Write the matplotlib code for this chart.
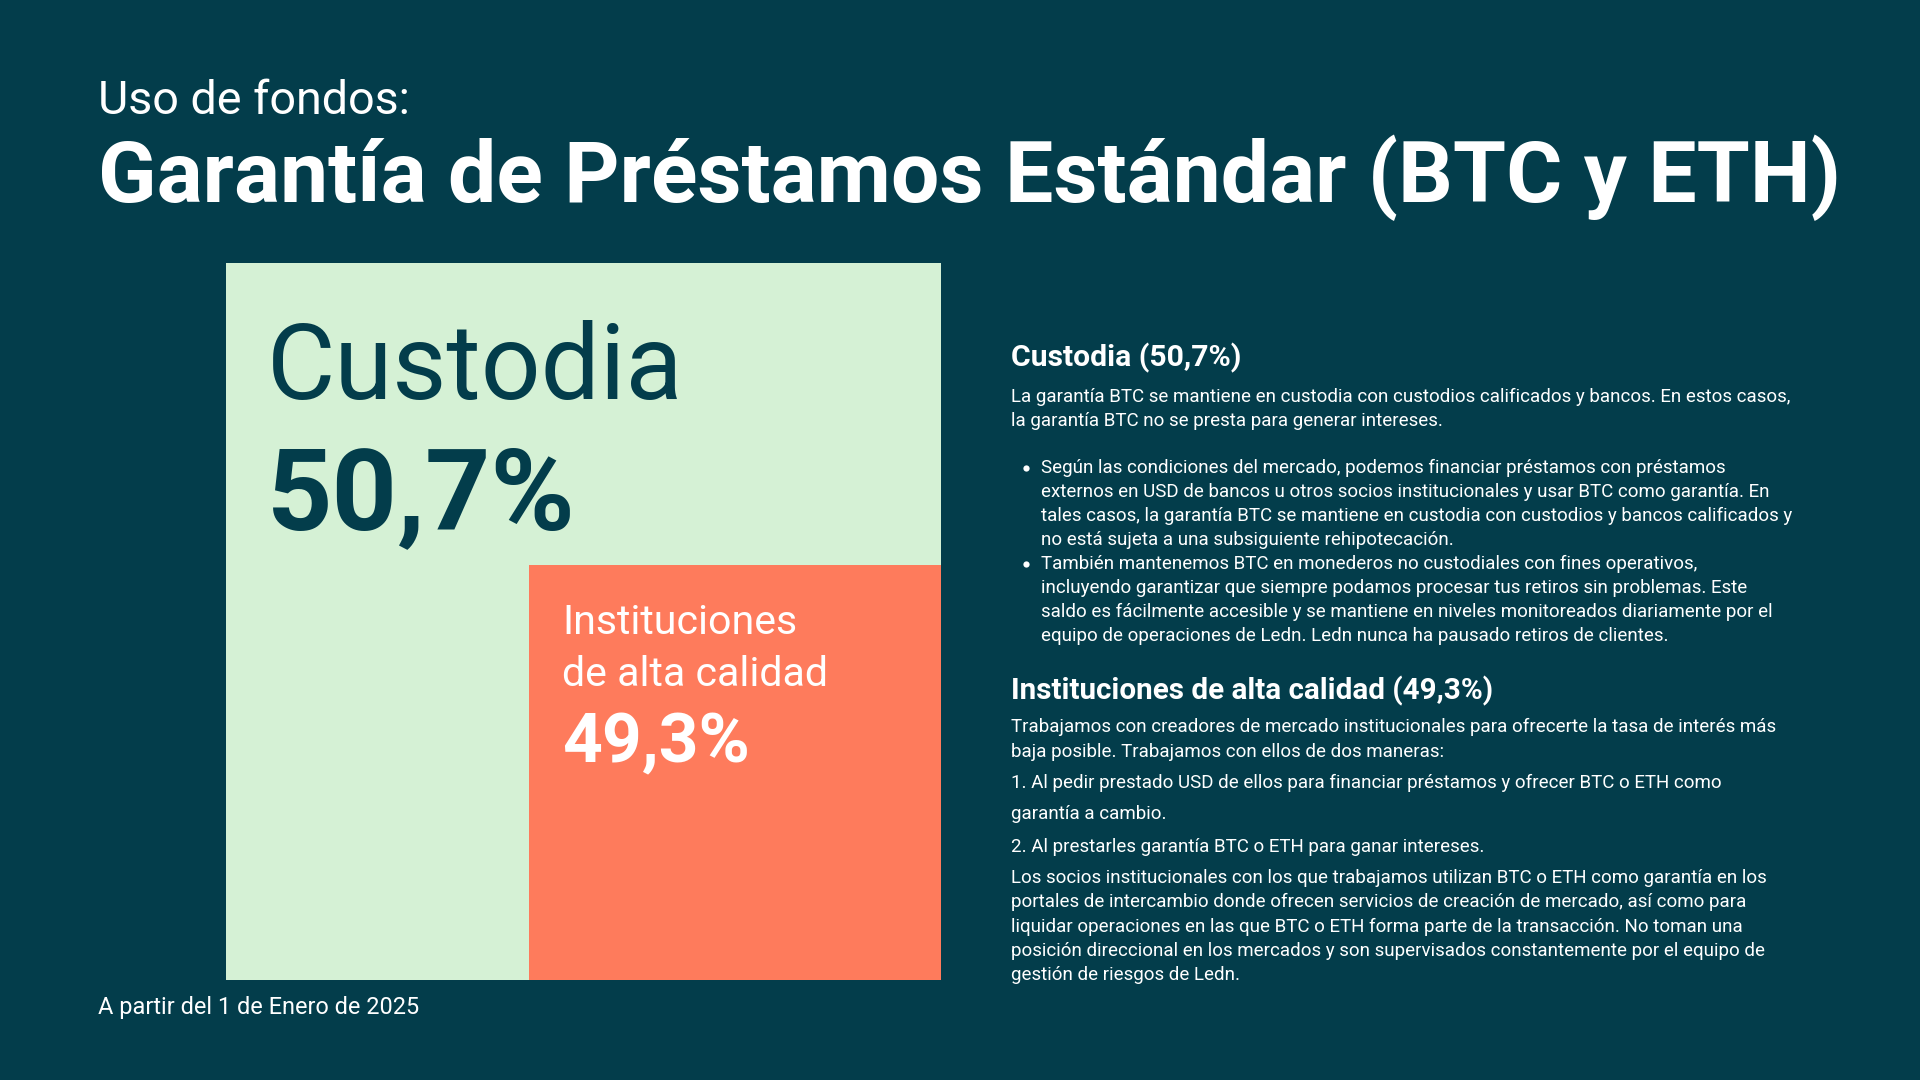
import matplotlib
matplotlib.use("Agg")
import matplotlib.pyplot as plt
from matplotlib.patches import Rectangle

# colours
BG = "#033d4b"
GREEN = "#d5f1d5"
ORANGE = "#fe7b5c"
WHITE = "#ffffff"

# data
categories = ["Custodia", "Instituciones de alta calidad"]
box_labels = [["Custodia"], ["Instituciones", "de alta calidad"]]
shares = [50.7, 49.3]
subtitle = "Uso de fondos:"
title = "Garantía de Préstamos Estándar (BTC y ETH)"
footnote = "A partir del 1 de Enero de 2025"

custodia_intro = [
    "La garantía BTC se mantiene en custodia con custodios calificados y bancos. En estos casos,",
    "la garantía BTC no se presta para generar intereses.",
]
custodia_bullets = [
    ["Según las condiciones del mercado, podemos financiar préstamos con préstamos",
     "externos en USD de bancos u otros socios institucionales y usar BTC como garantía. En",
     "tales casos, la garantía BTC se mantiene en custodia con custodios y bancos calificados y",
     "no está sujeta a una subsiguiente rehipotecación."],
    ["También mantenemos BTC en monederos no custodiales con fines operativos,",
     "incluyendo garantizar que siempre podamos procesar tus retiros sin problemas. Este",
     "saldo es fácilmente accesible y se mantiene en niveles monitoreados diariamente por el",
     "equipo de operaciones de Ledn. Ledn nunca ha pausado retiros de clientes."],
]
inst_lines = [
    "Trabajamos con creadores de mercado institucionales para ofrecerte la tasa de interés más",
    "baja posible. Trabajamos con ellos de dos maneras:",
    "1. Al pedir prestado USD de ellos para financiar préstamos y ofrecer BTC o ETH como",
    "garantía a cambio.",
    "2. Al prestarles garantía BTC o ETH para ganar intereses.",
    "Los socios institucionales con los que trabajamos utilizan BTC o ETH como garantía en los",
    "portales de intercambio donde ofrecen servicios de creación de mercado, así como para",
    "liquidar operaciones en las que BTC o ETH forma parte de la transacción. No toman una",
    "posición direccional en los mercados y son supervisados constantemente por el equipo de",
    "gestión de riesgos de Ledn.",
]
inst_y = [597.5, 618, 643.8, 669, 695.5, 721.4, 741, 761, 780.7, 800.3]


def pct(v):
    return f"{v:.1f}%".replace(".", ",")


plt.rcParams["font.family"] = ["Roboto", "DejaVu Sans"]

W, H = 1568, 882  # layout units (reference screenshot)
fig = plt.figure(figsize=(19.2, 10.8), dpi=100)
fig.patch.set_facecolor(BG)
ax = fig.add_axes([0, 0, 1, 1])
ax.set_xlim(0, W)
ax.set_ylim(H, 0)
ax.axis("off")
rend = fig.canvas.get_renderer()
scale = 1920 / W


def fit(x, y, s, width, size=20, **kw):
    # put text and resize it so that it spans `width` layout units
    t = ax.text(x, y, s, fontsize=size, va="baseline", ha="left", **kw)
    bb = t.get_window_extent(renderer=rend)
    new = size * width * scale / bb.width
    t.set_fontsize(new)
    return new


# header
fit(80, 93, subtitle, 255, color=WHITE)
fit(80, 165, title, 1418, color=WHITE, fontweight="bold")

# blocks
ax.add_patch(Rectangle((184.6, 215), 768.5 - 184.6, 800 - 215, color=GREEN, lw=0))
ax.add_patch(Rectangle((432, 461.4), 768.5 - 432, 800 - 461.4, color=ORANGE, lw=0))

fit(218, 326, box_labels[0][0], 340, color=BG)
fit(218, 432, pct(shares[0]), 252, color=BG, fontweight="bold")
s = fit(459, 560, box_labels[1][1], 217, color=WHITE)
ax.text(459, 517.8, box_labels[1][0], fontsize=s, color=WHITE, va="baseline")
fit(459, 623, pct(shares[1]), 153, color=WHITE, fontweight="bold")

fit(80, 828, footnote, 261, color=WHITE)

# right column
fit(826, 299.5, f"{categories[0]} ({pct(shares[0])})", 188,
    color=WHITE, fontweight="semibold")
body = fit(826, 328, custodia_intro[0], 636, color=WHITE)
ax.text(826, 347.5, custodia_intro[1], fontsize=body, color=WHITE, va="baseline")

y = 386.5
for item in custodia_bullets:
    # bullet dot centred on the x-height of the first line
    ax.plot([838], [y - 4.5], "o", ms=4.5, color=WHITE, mew=0)
    for line in item:
        ax.text(850, y, line, fontsize=body, color=WHITE, va="baseline")
        y += 19.6

fit(826, 571, f"{categories[1]} ({pct(shares[1])})", 393,
    color=WHITE, fontweight="semibold")
for line, yy in zip(inst_lines, inst_y):
    ax.text(826, yy, line, fontsize=body, color=WHITE, va="baseline")

fig.savefig("out.png", dpi=100, facecolor=BG)
